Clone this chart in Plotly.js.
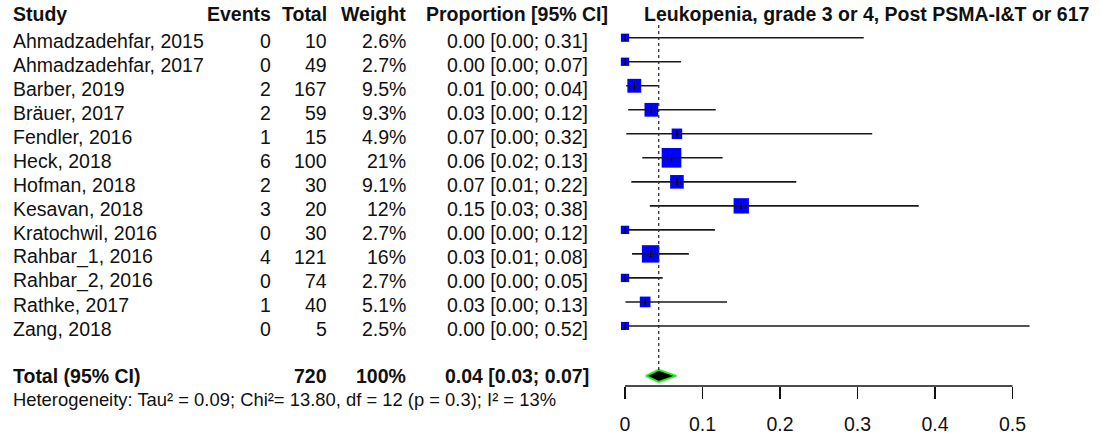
<!DOCTYPE html>
<html>
<head>
<meta charset="utf-8">
<script src="https://cdn.plot.ly/plotly-3.0.1.min.js"></script>
<style>
  html, body { margin: 0; padding: 0; background: #fff; }
  #chart { width: 1102px; height: 437px; }
</style>
</head>
<body>
<div id="chart"></div>
<script>
// Forest plot: proportion of patients with grade 3/4 leukopenia after PSMA-I&T or PSMA-617
const studies = [
  "Ahmadzadehfar, 2015", "Ahmadzadehfar, 2017", "Barber, 2019", "Bräuer, 2017",
  "Fendler, 2016", "Heck, 2018", "Hofman, 2018", "Kesavan, 2018", "Kratochwil, 2016",
  "Rahbar_1, 2016", "Rahbar_2, 2016", "Rathke, 2017", "Zang, 2018"
];
const events  = [0, 0, 2, 2, 1, 6, 2, 3, 0, 4, 0, 1, 0];
const totals  = [10, 49, 167, 59, 15, 100, 30, 20, 30, 121, 74, 40, 5];
const weights = [2.6, 2.7, 9.5, 9.3, 4.9, 21, 9.1, 12, 2.7, 16, 2.7, 5.1, 2.5];
const proportion = [0, 0, 0.012, 0.034, 0.067, 0.060, 0.067, 0.150, 0, 0.033, 0, 0.026, 0];
const ciLower = [0, 0, 0.0015, 0.0041, 0.0017, 0.0223, 0.0082, 0.032, 0, 0.0091, 0, 0.0006, 0];
const ciUpper = [0.308, 0.0724, 0.0426, 0.117, 0.319, 0.126, 0.221, 0.379, 0.116, 0.0824, 0.0486, 0.1316, 0.522];

const pooledEst = 0.0435;
const pooledLower = 0.027;
const pooledUpper = 0.066;
const pooledTotal = 720;
const pooledWeight = "100%";

const tau2 = "0.09", chi2 = "13.80", hetDf = 12, hetP = "0.3", i2 = 13;

const axisTicks = [0, 0.1, 0.2, 0.3, 0.4, 0.5];
const axisTickText = ["0", "0.1", "0.2", "0.3", "0.4", "0.5"];

const plotTitle = "Leukopenia, grade 3 or 4, Post PSMA-I&T or 617";
const headers = { study: "Study", events: "Events", total: "Total", weight: "Weight", prop: "Proportion [95% CI]" };

// ---- geometry (pixels in a 1102 x 437 figure) ----
const W = 1102, H = 437;
const X0PX = 625, PX_PER_UNIT = 775;          // value 0 sits at x=625, 0.1 per 77.5 px
const ROW0PX = 37.7, ROWPX = 24;              // first study row and row pitch
const AXISPX = 385.7;                          // bottom of the plotting area
const TOTAL_ROW = 14.08;
const HEADER_ROW = -0.97;
const HET_PX = 399;

const xr0 = -X0PX / PX_PER_UNIT;
const xr1 = (W - X0PX) / PX_PER_UNIT;
const yTop = -ROW0PX / ROWPX;
const yBot = (AXISPX - ROW0PX) / ROWPX;

const rows = studies.map((_, i) => i);
const fmt = v => v.toFixed(2);
const px = p => p / W;

const FONT = "Liberation Sans, Arial, Helvetica, sans-serif";
const FS = 19.5;
const INK = "#111";

// ---- traces ----
const squares = {
  type: "scatter", mode: "markers",
  x: proportion, y: rows,
  marker: { symbol: "square", color: "#0000ff", opacity: 1,
            size: weights.map(w => 2 + 3.85 * Math.sqrt(w)), line: { width: 0 } },
  hoverinfo: "skip", showlegend: false
};

const ciX = [], ciY = [];
rows.forEach(i => { ciX.push(ciLower[i], ciUpper[i], null); ciY.push(i, i, null); });
const ciLines = {
  type: "scatter", mode: "lines", x: ciX, y: ciY,
  line: { color: "#1a1a1a", width: 1.6 },
  hoverinfo: "skip", showlegend: false
};

const centreTicks = {
  type: "scatter", mode: "markers", x: proportion, y: rows,
  marker: { symbol: "line-ns-open", size: 5, opacity: 1, color: "#000", line: { width: 1.2, color: "#000" } },
  hoverinfo: "skip", showlegend: false
};

const dh = 0.25;
const diamond = {
  type: "scatter", mode: "lines", fill: "toself",
  x: [pooledLower, pooledEst, pooledUpper, pooledEst, pooledLower],
  y: [TOTAL_ROW, TOTAL_ROW - dh, TOTAL_ROW, TOTAL_ROW + dh, TOTAL_ROW],
  fillcolor: "#000", line: { color: "#22ee22", width: 2 },
  hoverinfo: "skip", showlegend: false
};

// ---- text columns ----
const ann = [];
function addText(text, xPix, y, anchor, opts = {}) {
  ann.push({
    xref: "paper", yref: opts.yref || "y", x: px(xPix), y: y, xanchor: anchor, yanchor: "middle",
    text: text, showarrow: false, yshift: opts.yshift || 0,
    font: { family: FONT, size: opts.size || FS, color: INK }
  });
}
const COL_STUDY = 11, COL_EVENTS = 273, COL_TOTAL = 329, COL_WEIGHT = 408, COL_PROP = 517;
const STUDY_SHIFT = -3;

addText("<b>" + headers.study + "</b>", COL_STUDY, HEADER_ROW, "left");
addText("<b>" + headers.events + "</b>", COL_EVENTS, HEADER_ROW, "right");
addText("<b>" + headers.total + "</b>", COL_TOTAL, HEADER_ROW, "right");
addText("<b>" + headers.weight + "</b>", COL_WEIGHT, HEADER_ROW, "right");
addText("<b>" + headers.prop + "</b>", COL_PROP, HEADER_ROW, "center");
addText("<b>" + plotTitle + "</b>", 642, HEADER_ROW, "left");

rows.forEach(i => {
  const o = { yshift: STUDY_SHIFT };
  addText(studies[i], COL_STUDY, i, "left", o);
  addText(String(events[i]), COL_EVENTS, i, "right", o);
  addText(String(totals[i]), COL_TOTAL, i, "right", o);
  addText(weights[i] + "%", COL_WEIGHT, i, "right", o);
  addText(`${fmt(proportion[i])} [${fmt(ciLower[i])}; ${fmt(ciUpper[i])}]`, COL_PROP, i, "center", o);
});

addText("<b>Total (95% CI)</b>", COL_STUDY, TOTAL_ROW, "left");
addText("<b>" + pooledTotal + "</b>", COL_TOTAL, TOTAL_ROW, "right");
addText("<b>" + pooledWeight + "</b>", COL_WEIGHT, TOTAL_ROW, "right");
addText(`<b>${fmt(pooledEst)} [${fmt(pooledLower)}; ${fmt(pooledUpper)}]</b>`, COL_PROP, TOTAL_ROW, "center");
addText(`Heterogeneity: Tau² = ${tau2}; Chi²= ${chi2}, df = ${hetDf} (p = ${hetP}); I² = ${i2}%`,
        COL_STUDY, (AXISPX - HET_PX) / AXISPX, "left", { size: 18.4, yref: "paper" });

// ---- layout ----
const layout = {
  width: W, height: H,
  margin: { l: 0, r: 0, t: 0, b: H - AXISPX, pad: 0 },
  paper_bgcolor: "#fff", plot_bgcolor: "#fff",
  showlegend: false,
  xaxis: {
    range: [xr0, xr1], tickmode: "array", tickvals: axisTicks, ticktext: axisTickText,
    ticks: "outside", ticklen: 12, tickwidth: 1.5, tickcolor: "#111",
    ticklabelstandoff: 9,
    tickfont: { family: FONT, size: FS, color: INK },
    showgrid: false, zeroline: false, showline: false, fixedrange: true
  },
  yaxis: { range: [yBot, yTop], visible: false, fixedrange: true },
  shapes: [
    { type: "line", xref: "x", yref: "paper", x0: axisTicks[0], x1: axisTicks[axisTicks.length - 1],
      y0: 0, y1: 0, line: { color: "#111", width: 1.5 } },
    { type: "line", xref: "x", yref: "y", x0: pooledEst, x1: pooledEst, y0: -0.53, y1: TOTAL_ROW - dh,
      line: { color: "#333", width: 1.3, dash: "dot" }, layer: "above" }
  ],
  annotations: ann
};

Plotly.newPlot("chart", [squares, ciLines, centreTicks, diamond], layout,
               { displayModeBar: false, staticPlot: true });
</script>
</body>
</html>
